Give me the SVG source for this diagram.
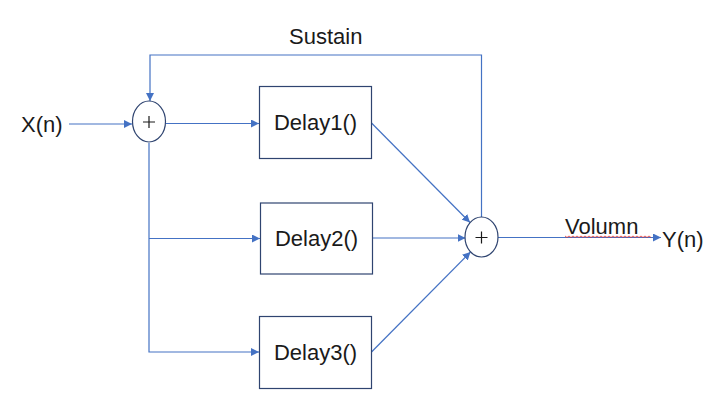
<svg xmlns="http://www.w3.org/2000/svg" width="725" height="418" viewBox="0 0 725 418">
<style>
.t{font-family:"Liberation Sans",Arial,sans-serif;font-size:22px;fill:#1a1a1a}
.box{fill:#fff;stroke:#2f4470;stroke-width:1.2}
.c{fill:none;stroke:#4472c4;stroke-width:1.2}
.p{stroke:#1a1a1a;stroke-width:1.2}
</style>
<defs>
<marker id="a" viewBox="0 0 10 10" refX="10" refY="5" markerWidth="8" markerHeight="8" markerUnits="userSpaceOnUse" orient="auto">
<path d="M0,0 L10,5 L0,10 z" fill="#4472c4"/>
</marker>
</defs>
<rect width="725" height="418" fill="#fff"/>
<g id="connectors">
<path class="c" d="M69,124 H132" marker-end="url(#a)"/>
<path class="c" d="M166,123.5 H259" marker-end="url(#a)"/>
<path class="c" d="M149,143 V352 H259" marker-end="url(#a)"/>
<path class="c" d="M149,238.5 H260" marker-end="url(#a)"/>
<path class="c" d="M481.5,217 V55 H150 V101" marker-end="url(#a)"/>
<path class="c" d="M371.5,123 L470,222.5" marker-end="url(#a)"/>
<path class="c" d="M372.5,238 H465.5" marker-end="url(#a)"/>
<path class="c" d="M371.5,352 L470.5,252" marker-end="url(#a)"/>
<path class="c" d="M498,237.5 H661" marker-end="url(#a)"/>
</g>
<g id="xn"><text class="t" x="21" y="132">X(n)</text></g>
<g id="sum1">
<ellipse cx="149" cy="121.5" rx="16.5" ry="20.5" class="box"/>
<path class="p" d="M143,122 H155 M149,116 V128"/>
</g>
<g id="delay1">
<rect x="259.5" y="86.5" width="112" height="72" class="box"/>
<text class="t" x="315.5" y="130" text-anchor="middle">Delay1()</text>
</g>
<g id="delay2">
<rect x="260.5" y="203" width="112" height="71" class="box"/>
<text class="t" x="316.5" y="246" text-anchor="middle">Delay2()</text>
</g>
<g id="delay3">
<rect x="259.5" y="316.5" width="112" height="72" class="box"/>
<text class="t" x="315.5" y="360" text-anchor="middle">Delay3()</text>
</g>
<g id="sum2">
<ellipse cx="481.5" cy="237" rx="16.5" ry="20" class="box"/>
<path class="p" d="M475.5,237.5 H487.5 M481.5,231.5 V243.5"/>
</g>
<g id="labels">
<text class="t" x="289" y="44">Sustain</text>
<text class="t" x="565" y="234">Volumn</text>
<path d="M565,236 l2,1.5 l2,-1.5 l2,1.5 l2,-1.5 l2,1.5 l2,-1.5 l2,1.5 l2,-1.5 l2,1.5 l2,-1.5 l2,1.5 l2,-1.5 l2,1.5 l2,-1.5 l2,1.5 l2,-1.5 l2,1.5 l2,-1.5 l2,1.5 l2,-1.5 l2,1.5 l2,-1.5 l2,1.5 l2,-1.5 l2,1.5 l2,-1.5 l2,1.5 l2,-1.5 l2,1.5 l2,-1.5 l2,1.5 l2,-1.5 l2,1.5 l2,-1.5 l2,1.5 l2,-1.5 l2,1.5 l2,-1.5 l2,1.5 l2,-1.5 l2,1.5 l2,-1.5 l2,1.5" fill="none" stroke="#e03030" stroke-width="0.8"/>
<text class="t" x="662" y="247">Y(n)</text>
</g>
</svg>
